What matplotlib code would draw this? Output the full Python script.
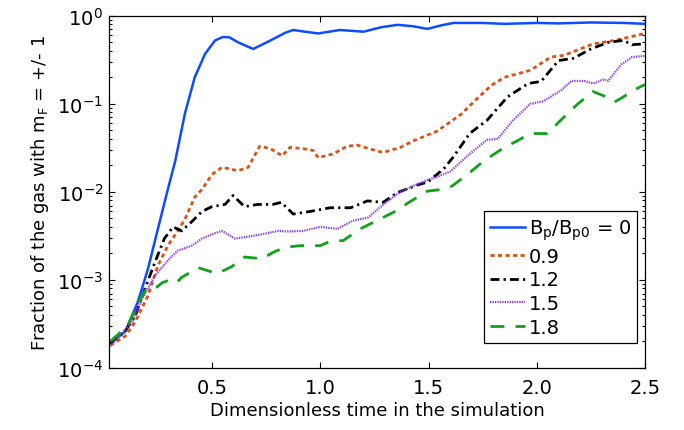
import matplotlib
matplotlib.use("Agg")
import matplotlib.pyplot as plt
from matplotlib.ticker import LogLocator, NullFormatter, FixedLocator

# ---- data ----
x_b0 = [0.03, 0.10, 0.157, 0.204, 0.25, 0.296, 0.33, 0.375, 0.42, 0.468, 0.514, 0.55, 0.58,
        0.62, 0.69, 0.76, 0.84, 0.875, 0.93, 0.99, 1.09, 1.20, 1.28, 1.356, 1.43, 1.495,
        1.56, 1.615, 1.75, 1.85, 2.0, 2.1, 2.25, 2.4, 2.5]
y_b0 = [1.9e-4, 2.6e-4, 5.6e-4, 1.33e-3, 3.8e-3, 1.07e-2, 2.24e-2, 7.8e-2, 0.20, 0.37, 0.525,
        0.575, 0.57, 0.50, 0.42, 0.51, 0.645, 0.69, 0.66, 0.63, 0.69, 0.66, 0.74, 0.79, 0.76,
        0.71, 0.78, 0.83, 0.83, 0.81, 0.83, 0.82, 0.84, 0.83, 0.81]

x_b09 = [0.03, 0.10, 0.144, 0.204, 0.25, 0.296, 0.34, 0.375, 0.42, 0.454, 0.50, 0.546, 0.62,
         0.667, 0.72, 0.77, 0.824, 0.86, 0.92, 0.968, 0.99, 1.06, 1.125, 1.17, 1.245, 1.29,
         1.37, 1.43, 1.54, 1.65, 1.72, 1.79, 1.85, 1.97, 2.065, 2.125, 2.26, 2.36, 2.5]
y_b09 = [1.8e-4, 2.3e-4, 3.3e-4, 6.6e-4, 1.45e-3, 2.45e-3, 3.55e-3, 4.9e-3, 8.7e-3, 1.07e-2,
         1.58e-2, 1.9e-2, 1.74e-2, 1.9e-2, 3.3e-2, 3.1e-2, 2.57e-2, 3.2e-2, 3.1e-2, 2.95e-2,
         2.45e-2, 2.7e-2, 3.3e-2, 3.4e-2, 3.0e-2, 2.8e-2, 3.2e-2, 3.8e-2, 4.9e-2, 7.6e-2,
         0.112, 0.162, 0.20, 0.24, 0.34, 0.355, 0.48, 0.525, 0.63]

x_b12 = [0.03, 0.097, 0.144, 0.19, 0.236, 0.28, 0.32, 0.36, 0.407, 0.454, 0.50, 0.56, 0.597,
         0.65, 0.71, 0.78, 0.82, 0.875, 0.954, 1.046, 1.14, 1.218, 1.29, 1.356, 1.45, 1.495,
         1.57, 1.615, 1.69, 1.77, 1.865, 1.96, 2.02, 2.10, 2.17, 2.25, 2.33, 2.40, 2.44, 2.5]
y_b12 = [1.9e-4, 2.6e-4, 3.8e-4, 7.9e-4, 1.58e-3, 2.95e-3, 4.0e-3, 3.6e-3, 4.6e-3, 6.0e-3,
         6.8e-3, 7.2e-3, 9.1e-3, 6.8e-3, 7.2e-3, 7.2e-3, 7.6e-3, 5.6e-3, 6.0e-3, 6.6e-3,
         6.6e-3, 7.9e-3, 7.6e-3, 9.8e-3, 1.2e-2, 1.29e-2, 1.82e-2, 2.5e-2, 4.6e-2, 6.5e-2,
         0.12, 0.17, 0.18, 0.31, 0.33, 0.42, 0.50, 0.525, 0.47, 0.48]

x_b15 = [0.03, 0.13, 0.176, 0.236, 0.296, 0.34, 0.407, 0.454, 0.50, 0.546, 0.606, 0.667, 0.73,
         0.806, 0.85, 0.92, 1.0, 1.08, 1.15, 1.22, 1.28, 1.356, 1.43, 1.51, 1.54, 1.60, 1.69,
         1.77, 1.82, 1.89, 1.97, 2.03, 2.11, 2.16, 2.22, 2.26, 2.31, 2.33, 2.39, 2.44, 2.5]
y_b15 = [1.78e-4, 3.3e-4, 6.0e-4, 1.12e-3, 1.66e-3, 2.14e-3, 2.45e-3, 2.95e-3, 3.3e-3, 3.6e-3,
         2.95e-3, 3.1e-3, 3.3e-3, 3.6e-3, 3.55e-3, 3.6e-3, 4.0e-3, 3.8e-3, 4.7e-3, 5.1e-3,
         6.8e-3, 9.5e-3, 1.17e-2, 1.41e-2, 1.48e-2, 1.7e-2, 2.7e-2, 3.9e-2, 4.0e-2, 6.5e-2,
         0.10, 0.107, 0.141, 0.182, 0.182, 0.17, 0.19, 0.182, 0.28, 0.34, 0.35]

x_b18 = [0.03, 0.11, 0.157, 0.19, 0.22, 0.245, 0.27, 0.315, 0.34, 0.36, 0.41, 0.435, 0.50, 0.53,
         0.59, 0.65, 0.73, 0.79, 0.84, 0.907, 1.0, 1.046, 1.106, 1.185, 1.26, 1.34, 1.417,
         1.495, 1.57, 1.61, 1.68, 1.755, 1.85, 1.91, 1.97, 2.05, 2.11, 2.19, 2.26, 2.31, 2.36,
         2.40, 2.46, 2.5]
y_b18 = [2.0e-4, 3.0e-4, 5.4e-4, 7.5e-4, 8.5e-4, 8.3e-4, 9.3e-4, 1.02e-3, 9.5e-4, 1.07e-3,
         1.26e-3, 1.38e-3, 1.23e-3, 1.2e-3, 1.41e-3, 1.82e-3, 1.74e-3, 2.1e-3, 2.35e-3, 2.45e-3,
         2.45e-3, 2.75e-3, 2.8e-3, 3.8e-3, 4.7e-3, 5.9e-3, 7.8e-3, 1.02e-2, 1.07e-2, 1.17e-2,
         1.58e-2, 2.24e-2, 3.2e-2, 3.8e-2, 4.6e-2, 4.6e-2, 6.5e-2, 0.10, 0.138, 0.123, 0.105,
         0.12, 0.148, 0.166]

labels = [r"B$_\mathregular{p}$/B$_\mathregular{p0}$ = 0", "0.9", "1.2", "1.5", "1.8"]
x_ticks = [0.5, 1.0, 1.5, 2.0, 2.5]
x_tick_labels = ["0.5", "1.0", "1.5", "2.0", "2.5"]

plt.rcParams['font.family'] = ['DejaVu Sans']
plt.rcParams['mathtext.fontset'] = 'dejavusans'

fig = plt.figure(figsize=(6.84, 4.31), dpi=100)
ax = fig.add_axes([0.159, 0.144, 0.784, 0.817])

ax.plot(x_b0, y_b0, color='#0D4DFF', lw=1.8, ls='-', label=labels[0])
ax.plot(x_b09, y_b09, color='#D95319', lw=2.0, ls=(0, (1.5, 1.2)), label=labels[1])
ax.plot(x_b12, y_b12, color='black', lw=2.0, ls=(0, (3.2, 1.5, 0.8, 1.5)), label=labels[2])
ax.plot(x_b15, y_b15, color='#8A3CF0', lw=1.6, ls=(0, (0.6, 0.5)), label=labels[3])
ax.plot(x_b18, y_b18, color='#14A01C', lw=2.0, ls=(0, (5, 4)), label=labels[4])

ax.set_yscale('log')
ax.set_ylim(1e-4, 1.0)
ax.set_xlim(0.023, 2.5)
ax.xaxis.set_major_locator(FixedLocator(x_ticks))
ax.set_xticklabels(x_tick_labels)
ax.yaxis.set_major_locator(LogLocator(base=10, numticks=10))
ax.yaxis.set_minor_locator(LogLocator(base=10, subs=range(2, 10), numticks=20))
ax.yaxis.set_minor_formatter(NullFormatter())

ax.tick_params(which='both', direction='in', top=True, right=True, labelsize=14, width=0.8)
ax.tick_params(which='major', length=4)
ax.tick_params(which='minor', length=2.5)
ax.tick_params(axis='x', pad=7)
ax.tick_params(axis='y', pad=4)
for s in ax.spines.values():
    s.set_linewidth(0.9)

ax.set_xlabel("Dimensionless time in the simulation", fontsize=13, labelpad=3)
ax.set_ylabel(r"Fraction of the gas with m$_\mathregular{F}$ = +/- 1", fontsize=13, labelpad=4)

leg = ax.legend(loc='lower right', bbox_to_anchor=(0.985, 0.071), borderaxespad=0,
                fontsize=14, fancybox=False, framealpha=1, edgecolor='black',
                handlelength=1.8, handletextpad=0.2, labelspacing=0.25, borderpad=0.3)
leg.get_frame().set_linewidth(0.9)

fig.savefig("out.png", dpi=100)
